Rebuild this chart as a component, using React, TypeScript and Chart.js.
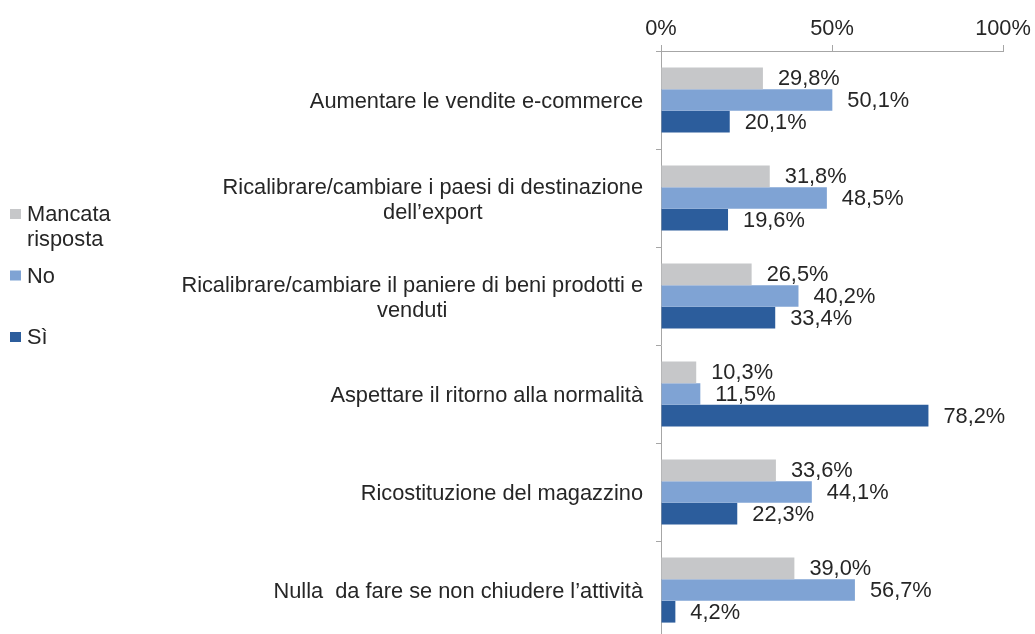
import React, { useEffect, useRef } from "react";
import { Chart, registerables } from "chart.js";

Chart.register(...registerables);

const CATEGORIES: string[][] = [
  ["Aumentare le vendite e-commerce"],
  ["Ricalibrare/cambiare i paesi di destinazione", "dell’export"],
  ["Ricalibrare/cambiare il paniere di beni prodotti e", "venduti"],
  ["Aspettare il ritorno alla normalità"],
  ["Ricostituzione del magazzino"],
  ["Nulla  da fare se non chiudere l’attività"],
];
const SERIES_NAMES = ["Mancata risposta", "No", "Sì"];
const MANCATA = [29.8, 31.8, 26.5, 10.3, 33.6, 39.0];
const NO = [50.1, 48.5, 40.2, 11.5, 44.1, 56.7];
const SI = [20.1, 19.6, 33.4, 78.2, 22.3, 4.2];
const X_TICKS = [0, 50, 100];

const COLORS = ["#c6c7c9", "#7fa3d4", "#2c5d9c"];
const TEXT = "#262626";
const AXIS = "#a6a6a6";
const FONT_FAMILY = "'Liberation Sans', Arial, sans-serif";
const FONT_SIZE = 21.8;
const FONT = `${FONT_SIZE}px ${FONT_FAMILY}`;

const fmt = (v: number) => v.toFixed(1).replace(".", ",") + "%";

function wrap(ctx: CanvasRenderingContext2D, text: string, maxW: number): string[] {
  const words = text.split(" ");
  const lines: string[] = [];
  let cur = "";
  for (const w of words) {
    const t = cur ? cur + " " + w : w;
    if (cur && ctx.measureText(t).width > maxW) {
      lines.push(cur);
      cur = w;
    } else cur = t;
  }
  if (cur) lines.push(cur);
  return lines;
}

const drawPlugin = {
  id: "customText",
  afterDraw(chart: any) {
    const ctx: CanvasRenderingContext2D = chart.ctx;
    const yScale = chart.scales.y;
    ctx.save();
    ctx.font = FONT;
    ctx.fillStyle = TEXT;
    ctx.textBaseline = "middle";

    // category labels
    const labelRight = 643;
    const lh = 25;
    CATEGORIES.forEach((lines, i) => {
      const y = yScale.getPixelForValue(i);
      const w = Math.max(...lines.map((l) => ctx.measureText(l).width));
      const cx = labelRight - w / 2;
      ctx.textAlign = "center";
      const y0 = y + 2 - ((lines.length - 1) * lh) / 2;
      lines.forEach((l, j) => ctx.fillText(l, cx, y0 + j * lh));
    });

    // data labels
    ctx.textAlign = "left";
    chart.data.datasets.forEach((ds: any, di: number) => {
      const meta = chart.getDatasetMeta(di);
      meta.data.forEach((bar: any, i: number) => {
        ctx.fillText(fmt(ds.data[i]), bar.x + 15, bar.y + 1);
      });
    });

    // legend
    SERIES_NAMES.forEach((name, i) => {
      const yc = 214 + i * 61.5;
      ctx.fillStyle = COLORS[i];
      ctx.fillRect(10, yc - 5, 11, 10);
      ctx.fillStyle = TEXT;
      ctx.textAlign = "left";
      const lines = wrap(ctx, name, 120);
      lines.forEach((l, j) => ctx.fillText(l, 27, yc + 1 + j * 25));
    });
    ctx.restore();
  },
};

export default function App() {
  const ref = useRef<HTMLCanvasElement | null>(null);

  useEffect(() => {
    if (!ref.current) return;
    const chart = new Chart(ref.current, {
      type: "bar",
      data: {
        labels: CATEGORIES.map((l) => l.join(" ")),
        datasets: [
          { label: SERIES_NAMES[0], data: MANCATA, backgroundColor: COLORS[0] },
          { label: SERIES_NAMES[1], data: NO, backgroundColor: COLORS[1] },
          { label: SERIES_NAMES[2], data: SI, backgroundColor: COLORS[2] },
        ],
      },
      options: {
        indexAxis: "y",
        responsive: false,
        animation: false,
        datasets: {
          bar: { categoryPercentage: 0.665, barPercentage: 1.0, borderWidth: 0 },
        },
        layout: { padding: { left: 0, right: 32, top: 0, bottom: 1 } },
        plugins: {
          legend: { display: false },
          tooltip: { enabled: false },
        },
        scales: {
          x: {
            position: "top",
            min: 0,
            max: 100,
            afterBuildTicks: (s: any) => {
              s.ticks = X_TICKS.map((v) => ({ value: v }));
            },
            afterFit: (s: any) => {
              s.height = 51;
            },
            ticks: {
              callback: (v: any) => v + "%",
              font: { family: FONT_FAMILY, size: FONT_SIZE },
              color: TEXT,
              padding: 3,
              maxRotation: 0,
            },
            grid: { drawOnChartArea: false, drawTicks: true, tickLength: 6, color: AXIS },
            border: { color: AXIS },
          },
          y: {
            ticks: { display: false },
            afterFit: (s: any) => {
              s.width = 661;
            },
            grid: { drawOnChartArea: false, drawTicks: true, tickLength: 5, color: AXIS, offset: true },
            border: { color: AXIS },
          },
        },
      } as any,
      plugins: [drawPlugin],
    });
    return () => chart.destroy();
  }, []);

  return (
    <div
      style={{
        position: "fixed",
        left: 0,
        top: 0,
        width: 1035,
        height: 634,
        overflow: "hidden",
        background: "#fff",
      }}
    >
      <canvas ref={ref} width={1035} height={640} style={{ display: "block" }} />
    </div>
  );
}
